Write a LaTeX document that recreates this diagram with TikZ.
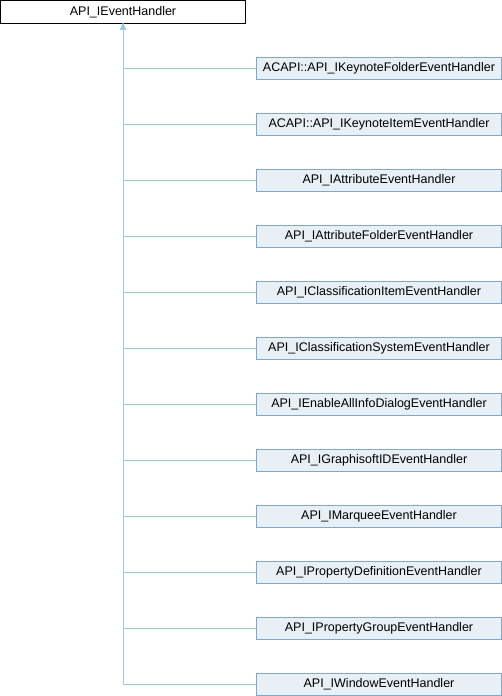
\documentclass[tikz,border=0pt]{standalone}
\usepackage{fontspec}
\setmainfont{Liberation Sans}
\usepackage{tikz}
\usetikzlibrary{arrows.meta}

\definecolor{edgeblue}{HTML}{9CC9E3}
\definecolor{boxline}{HTML}{84A8C4}
\definecolor{boxfill}{HTML}{E8EFF5}

\begin{document}
\begin{tikzpicture}[x=1pt, y=-1pt, >={Triangle[width=5pt,length=6pt]},
  base/.style={draw=black, line width=0.8pt, fill=white, minimum width=245pt, minimum height=22.5pt, inner sep=0pt, font=\fontsize{12.5}{14}\selectfont},
  child/.style={draw=boxline, line width=0.8pt, fill=boxfill, minimum width=245pt, minimum height=22pt, inner sep=0pt, font=\fontsize{12.5}{14}\selectfont},
  edge/.style={draw=edgeblue, line width=0.8pt}]
\useasboundingbox (0,0) rectangle (502,696);

% base class (top left)
\node[base] (H) at (123,11.75) {API\_IEventHandler};

% derived classes (right)
\node[child] (D1) at (379,68) {ACAPI::API\_IKeynoteFolderEventHandler};
\node[child] (D2) at (379,124) {ACAPI::API\_IKeynoteItemEventHandler};
\node[child] (D3) at (379,180) {API\_IAttributeEventHandler};
\node[child] (D4) at (379,236) {API\_IAttributeFolderEventHandler};
\node[child] (D5) at (379,292) {API\_IClassificationItemEventHandler};
\node[child] (D6) at (379,348) {API\_IClassificationSystemEventHandler};
\node[child] (D7) at (379,404) {API\_IEnableAllInfoDialogEventHandler};
\node[child] (D8) at (379,460) {API\_IGraphisoftIDEventHandler};
\node[child] (D9) at (379,516) {API\_IMarqueeEventHandler};
\node[child] (D10) at (379,572) {API\_IPropertyDefinitionEventHandler};
\node[child] (D11) at (379,628) {API\_IPropertyGroupEventHandler};
\node[child] (D12) at (379,684) {API\_IWindowEventHandler};

% inheritance arrows
\draw[edge,->] (D1.west) -| (H.south);
\draw[edge,->] (D2.west) -| (H.south);
\draw[edge,->] (D3.west) -| (H.south);
\draw[edge,->] (D4.west) -| (H.south);
\draw[edge,->] (D5.west) -| (H.south);
\draw[edge,->] (D6.west) -| (H.south);
\draw[edge,->] (D7.west) -| (H.south);
\draw[edge,->] (D8.west) -| (H.south);
\draw[edge,->] (D9.west) -| (H.south);
\draw[edge,->] (D10.west) -| (H.south);
\draw[edge,->] (D11.west) -| (H.south);
\draw[edge,->] (D12.west) -| (H.south); % longest one, runs the full height
\end{tikzpicture}
\end{document}
